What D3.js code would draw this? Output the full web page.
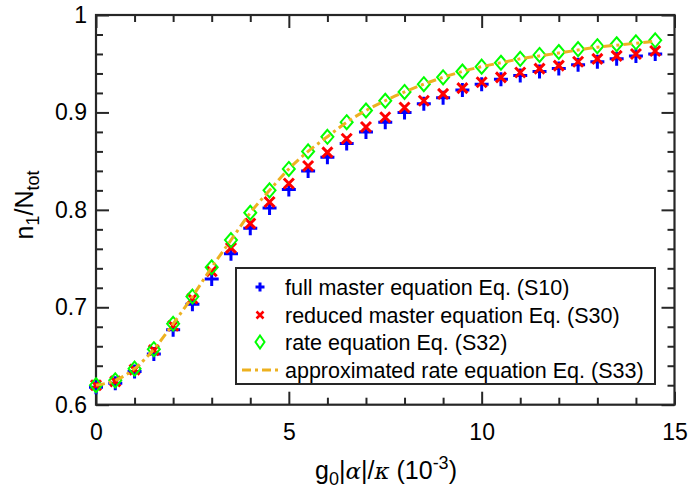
<!DOCTYPE html>
<html>
<head>
<meta charset="utf-8">
<script src="https://cdn.jsdelivr.net/npm/d3@7"></script>
<style>
  body { margin: 0; background: #fff; }
  text { font-family: "Liberation Sans", Arial, sans-serif; fill: #000; }
</style>
</head>
<body>
<div id="chart"></div>
<script>
// g0|alpha|/kappa in units of 1e-3
var xValues = [0, 0.5, 1, 1.5, 2, 2.5, 3, 3.5, 4, 4.5, 5, 5.5, 6, 6.5, 7,
               7.5, 8, 8.5, 9, 9.5, 10, 10.5, 11, 11.5, 12, 12.5, 13, 13.5, 14, 14.5];

// full master equation (S10)
var fullMaster = [0.618, 0.622, 0.634, 0.652, 0.677, 0.703, 0.729, 0.755, 0.781, 0.802,
                  0.821, 0.840, 0.854, 0.868, 0.880, 0.890, 0.900, 0.909, 0.915, 0.923,
                  0.929, 0.934, 0.938, 0.942, 0.945, 0.949, 0.952, 0.955, 0.958, 0.960];
// reduced master equation (S30)
var reducedMaster = [0.620, 0.624, 0.636, 0.656, 0.681, 0.709, 0.737, 0.761, 0.786, 0.808,
                     0.827, 0.845, 0.859, 0.873, 0.885, 0.895, 0.905, 0.912, 0.919, 0.925,
                     0.931, 0.936, 0.941, 0.945, 0.948, 0.952, 0.955, 0.958, 0.960, 0.963];
// rate equation (S32)
var rateEq = [0.620, 0.625, 0.637, 0.657, 0.683, 0.711, 0.741, 0.769, 0.797, 0.820,
              0.842, 0.860, 0.875, 0.890, 0.902, 0.912, 0.921, 0.929, 0.936, 0.942,
              0.947, 0.951, 0.955, 0.959, 0.962, 0.965, 0.968, 0.970, 0.972, 0.974];
// approximated rate equation (S33)
var approxRate = [0.620, 0.625, 0.637, 0.657, 0.683, 0.711, 0.741, 0.769, 0.797, 0.820,
                  0.842, 0.860, 0.875, 0.890, 0.902, 0.912, 0.921, 0.929, 0.936, 0.942,
                  0.947, 0.951, 0.955, 0.958, 0.961, 0.964, 0.967, 0.969, 0.971, 0.973];

var xTicks = [0, 5, 10, 15];
var xMinor = [1, 2, 3, 4, 6, 7, 8, 9, 11, 12, 13, 14];
var yTicks = [0.6, 0.7, 0.8, 0.9, 1];
var yMinor = [0.62, 0.64, 0.66, 0.68, 0.72, 0.74, 0.76, 0.78, 0.82, 0.84, 0.86, 0.88,
              0.92, 0.94, 0.96, 0.98];

var legendLabels = ['full master equation Eq. (S10)',
                    'reduced master equation Eq. (S30)',
                    'rate equation Eq. (S32)',
                    'approximated rate equation Eq. (S33)'];

var svgWidth = 688, svgHeight = 493;
var plotLeft = 96, plotRight = 674.5, plotTop = 15, plotBottom = 404.7;
var axisColor = '#262626';
var orange = '#edb120';

var svg = d3.select('#chart').append('svg')
  .attr('width', svgWidth)
  .attr('height', svgHeight);

var x = d3.scaleLinear().domain([0, 15]).range([plotLeft, plotRight]);
var y = d3.scaleLinear().domain([0.6, 1]).range([plotBottom, plotTop]);

// axes: ticks point inward, labels on bottom/left only
function styleAxis(g) {
  g.selectAll('.domain').remove();
  g.selectAll('.tick line').attr('stroke', axisColor).attr('stroke-width', 2);
  g.selectAll('.tick text').attr('font-size', 23).attr('fill', '#262626')
    .attr('font-family', '"Liberation Sans", Arial, sans-serif');
}

svg.append('g').attr('transform', 'translate(0,' + plotBottom + ')')
  .call(d3.axisBottom(x).tickValues(xTicks).tickSize(-13).tickPadding(19)
        .tickFormat(d3.format('d')))
  .call(styleAxis);
svg.append('g').attr('transform', 'translate(0,' + plotBottom + ')')
  .call(d3.axisBottom(x).tickValues(xMinor).tickSize(-7).tickFormat(''))
  .call(styleAxis);
svg.append('g').attr('transform', 'translate(0,' + plotTop + ')')
  .call(d3.axisTop(x).tickValues(xTicks).tickSize(-13).tickFormat(''))
  .call(styleAxis);
svg.append('g').attr('transform', 'translate(0,' + plotTop + ')')
  .call(d3.axisTop(x).tickValues(xMinor).tickSize(-7).tickFormat(''))
  .call(styleAxis);

svg.append('g').attr('transform', 'translate(' + plotLeft + ',0)')
  .call(d3.axisLeft(y).tickValues(yTicks).tickSize(-13).tickPadding(9)
        .tickFormat(function(d) { return d === 1 ? '1' : d3.format('.1f')(d); }))
  .call(styleAxis);
svg.append('g').attr('transform', 'translate(' + plotLeft + ',0)')
  .call(d3.axisLeft(y).tickValues(yMinor).tickSize(-7).tickFormat(''))
  .call(styleAxis);
svg.append('g').attr('transform', 'translate(' + plotRight + ',0)')
  .call(d3.axisRight(y).tickValues(yTicks).tickSize(-13).tickFormat(''))
  .call(styleAxis);
svg.append('g').attr('transform', 'translate(' + plotRight + ',0)')
  .call(d3.axisRight(y).tickValues(yMinor).tickSize(-7).tickFormat(''))
  .call(styleAxis);

// box
svg.append('rect')
  .attr('x', plotLeft).attr('y', plotTop)
  .attr('width', plotRight - plotLeft).attr('height', plotBottom - plotTop)
  .attr('fill', 'none').attr('stroke', axisColor).attr('stroke-width', 2.2);

// markers
var plusPath = 'M-7,0H7M0,-7V7';
var crossPath = 'M-5,-5L5,5M-5,5L5,-5';
var diamondPath = 'M0,-7L6,0L0,7L-6,0Z';

function drawMarkers(values, path, color, sw) {
  svg.append('g').selectAll('path')
    .data(values)
    .enter()
    .append('path')
    .attr('transform', function(d, i) {
      return 'translate(' + x(xValues[i]) + ',' + y(d) + ')';
    })
    .attr('d', path)
    .attr('fill', 'none')
    .attr('stroke', color)
    .attr('stroke-width', sw);
}

drawMarkers(fullMaster, plusPath, '#0000ff', 3);
drawMarkers(reducedMaster, crossPath, '#ff0000', 3);
drawMarkers(rateEq, diamondPath, '#00ff00', 2);

var line = d3.line()
  .x(function(d, i) { return x(xValues[i]); })
  .y(function(d) { return y(d); })
  .curve(d3.curveMonotoneX);

svg.append('path')
  .datum(approxRate)
  .attr('d', line)
  .attr('fill', 'none')
  .attr('stroke', orange)
  .attr('stroke-width', 3)
  .attr('stroke-dasharray', '9,4,3,4');

// legend
var lg = svg.append('g');
lg.append('rect')
  .attr('x', 236).attr('y', 268)
  .attr('width', 419).attr('height', 116)
  .attr('fill', '#fff').attr('stroke', axisColor).attr('stroke-width', 2);

var rowY = [287, 315, 342, 370];
var legendMarkers = [
  {path: 'M-4.5,0H4.5M0,-4.5V4.5', color: '#0000ff', sw: 3},
  {path: 'M-3.5,-3.5L3.5,3.5M-3.5,3.5L3.5,-3.5', color: '#ff0000', sw: 2.5},
  {path: 'M0,-6.5L4.5,0L0,6.5L-4.5,0Z', color: '#00ff00', sw: 2}
];
legendMarkers.forEach(function(m, i) {
  lg.append('path')
    .attr('transform', 'translate(260,' + rowY[i] + ')')
    .attr('d', m.path)
    .attr('fill', 'none')
    .attr('stroke', m.color)
    .attr('stroke-width', m.sw);
});
lg.append('line')
  .attr('x1', 242).attr('x2', 282)
  .attr('y1', rowY[3]).attr('y2', rowY[3])
  .attr('stroke', orange).attr('stroke-width', 3)
  .attr('stroke-dasharray', '9,4,3,4');

lg.selectAll('text.lab')
  .data(legendLabels)
  .enter()
  .append('text')
  .attr('class', 'lab')
  .attr('x', 285)
  .attr('y', function(d, i) { return rowY[i]; })
  .attr('dy', '0.35em')
  .attr('font-size', 21.5)
  .text(function(d) { return d; });

// y label: n_1/N_tot
var yl = svg.append('text')
  .attr('transform', 'translate(33,205) rotate(-90)')
  .attr('text-anchor', 'middle')
  .attr('font-size', 25)
  .attr('fill', '#262626');
yl.append('tspan').text('n');
yl.append('tspan').attr('font-size', 18).attr('dy', 6).text('1');
yl.append('tspan').attr('dy', -6).text('/N');
yl.append('tspan').attr('font-size', 18).attr('dy', 6).text('tot');

// x label: g_0|alpha|/kappa (10^-3)
var xl = svg.append('text')
  .attr('x', 386).attr('y', 479)
  .attr('text-anchor', 'middle')
  .attr('font-size', 25)
  .attr('fill', '#262626');
xl.append('tspan').text('g');
xl.append('tspan').attr('font-size', 18).attr('dy', 6).text('0');
xl.append('tspan').attr('dy', -6).text('|');
xl.append('tspan').attr('font-family', '"DejaVu Serif", "Liberation Serif", serif')
  .attr('font-style', 'italic').attr('font-size', 23).text('α');
xl.append('tspan').text('|/');
xl.append('tspan').attr('font-family', '"DejaVu Serif", "Liberation Serif", serif')
  .attr('font-style', 'italic').attr('font-size', 23).text('κ');
xl.append('tspan').text(' (10');
xl.append('tspan').attr('font-size', 18).attr('dy', -10).text('-3');
xl.append('tspan').attr('dy', 10).text(')');
</script>
</body>
</html>
